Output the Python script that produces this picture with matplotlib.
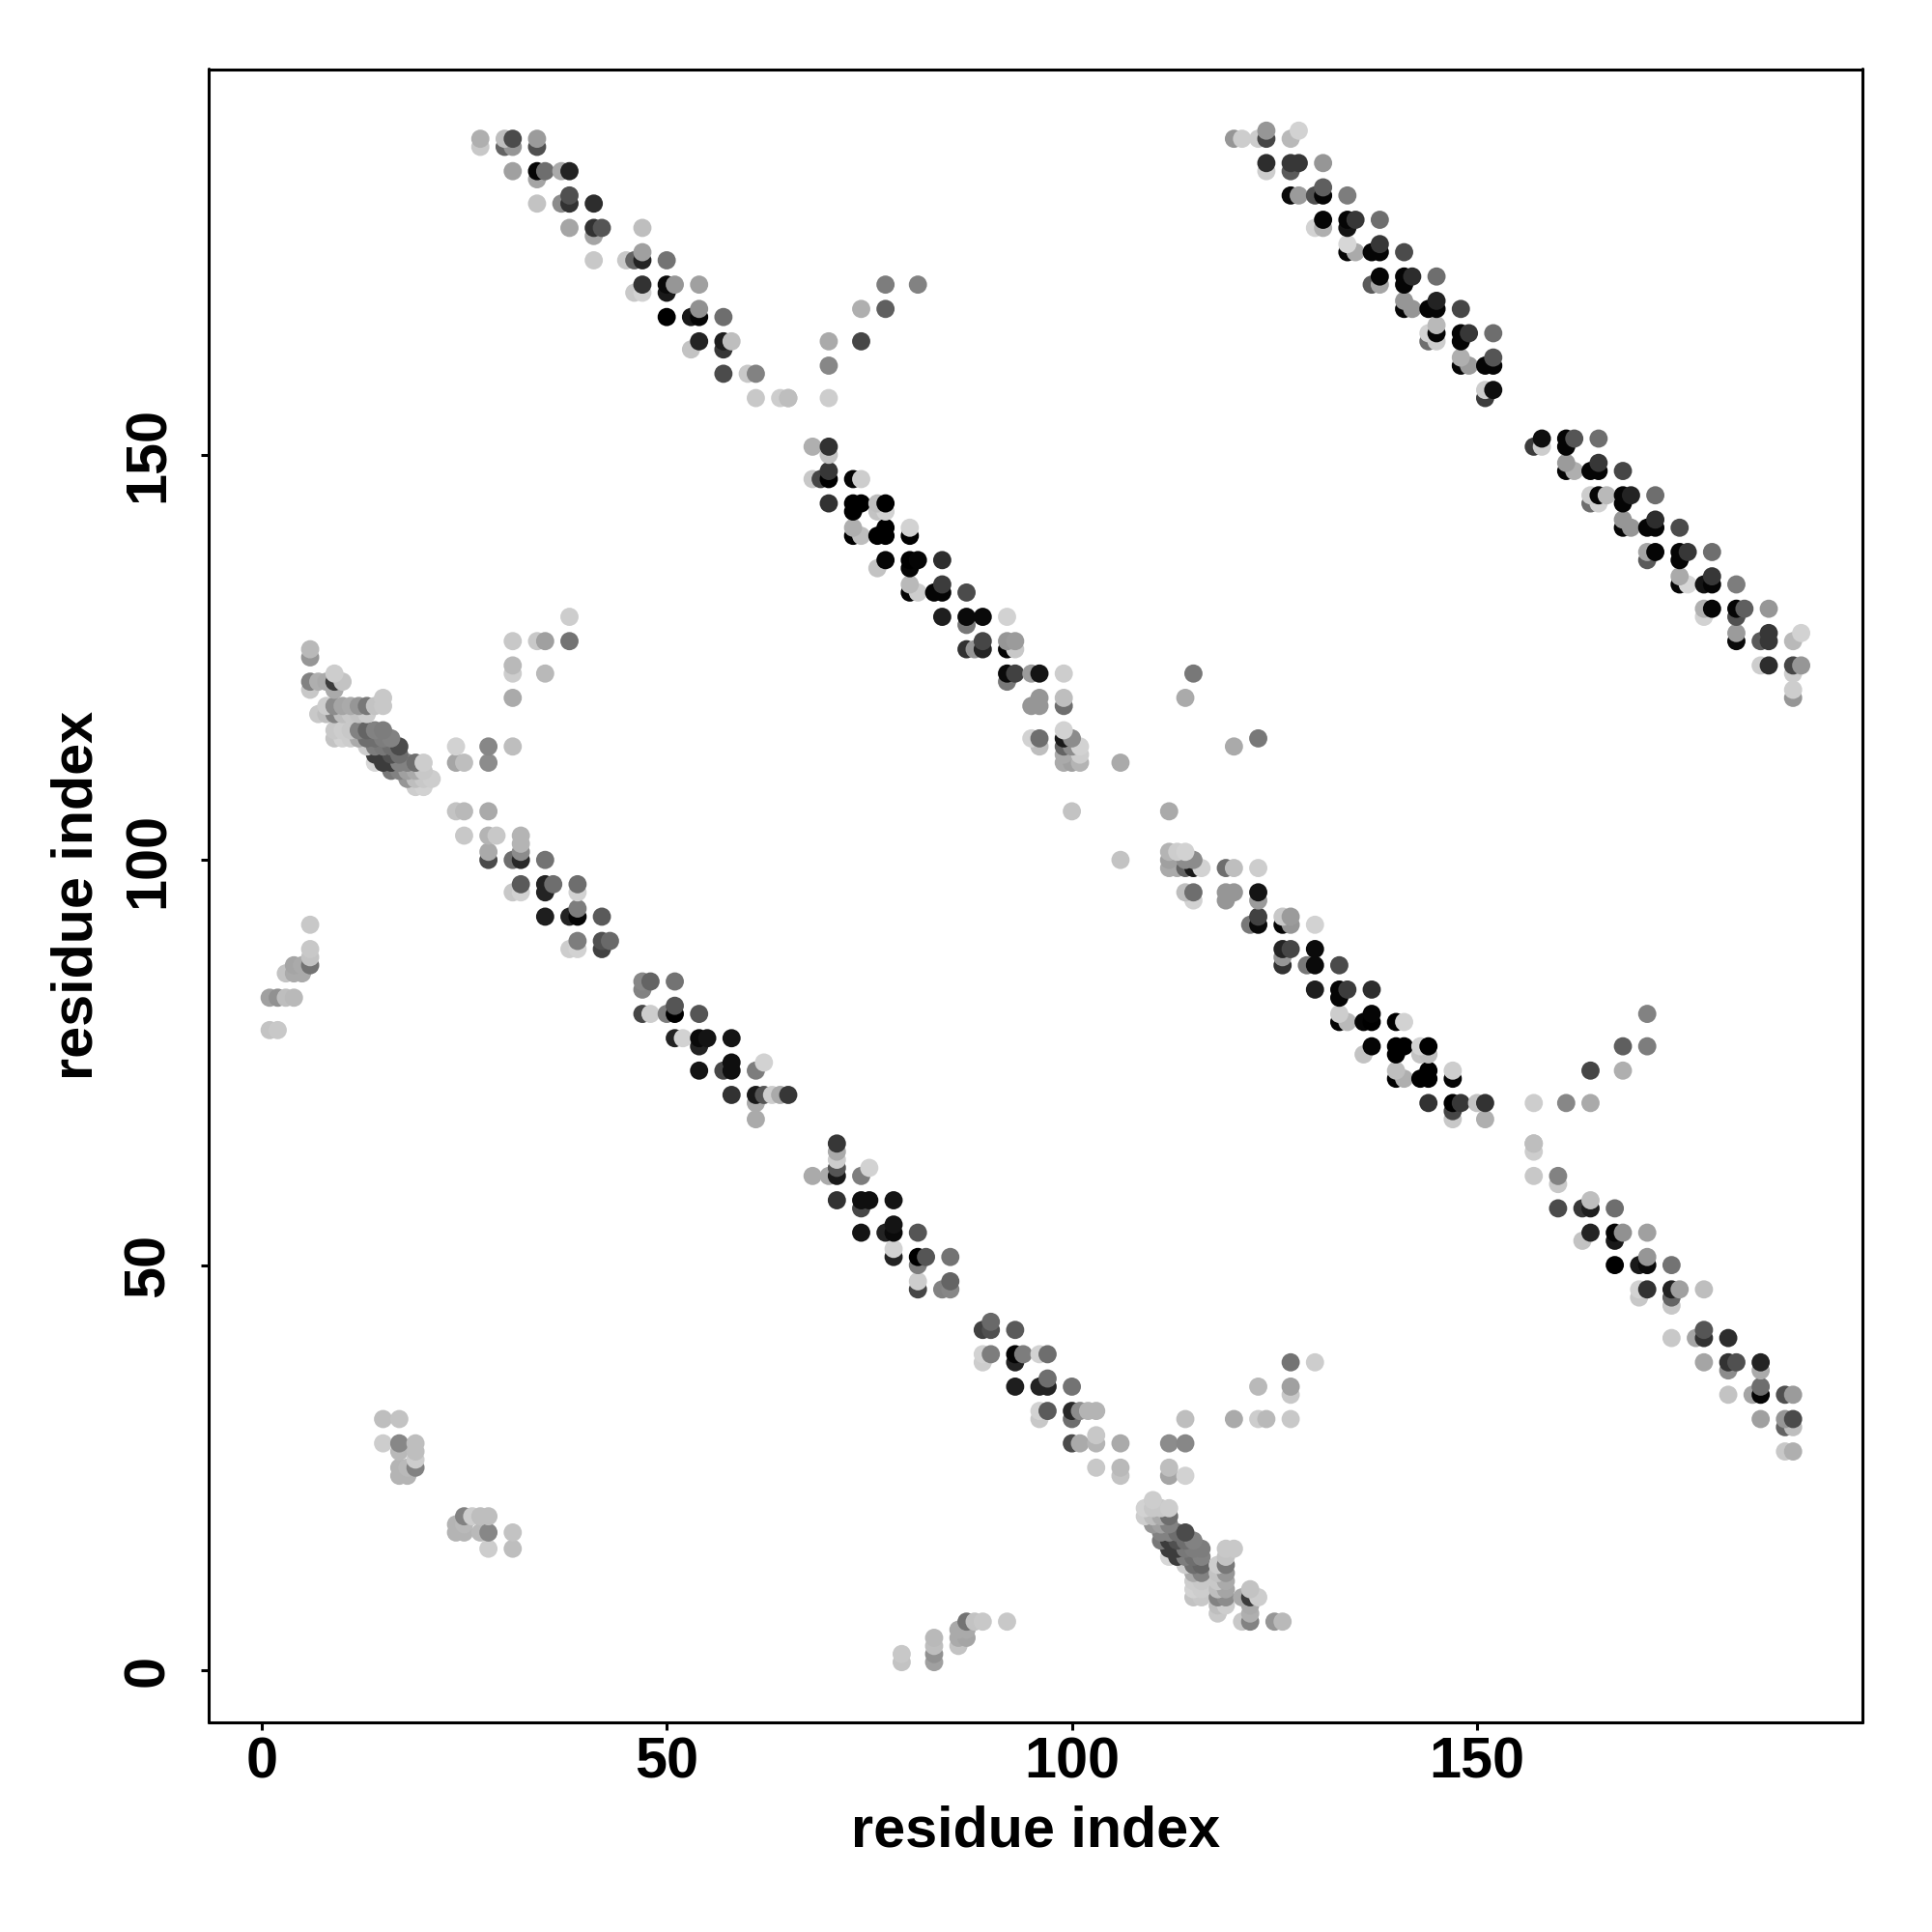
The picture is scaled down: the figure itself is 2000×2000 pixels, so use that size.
import numpy as np
import matplotlib
matplotlib.use('Agg')
import matplotlib.pyplot as plt

# contacts as (residue i, residue j, grey 0-255), the map is symmetric so only i < j is listed
top_left_band = [
    (27,189,175),(27,188,200),(30,189,190),(31,189,75),(30,188,100),(31,188,150),(34,189,155),(34,188,80),
    (31,185,160),(34,185,5),(35,185,110),(37,185,170),(38,185,35),(34,184,165),
    (34,181,195),(37,181,140),(38,181,50),(38,182,80),(41,181,45),
    (38,178,165),(41,178,50),(42,178,85),(41,177,165),(47,178,190),
    (41,174,200),(45,174,200),(46,174,100),(47,174,35),(47,175,160),(50,174,115),
    (47,171,50),(50,171,10),(51,171,150),(54,171,160),(46,170,200),(47,170,210),(50,170,25),
    (50,167,0),(53,167,25),(54,167,5),(54,168,145),(57,167,110),
    (54,164,35),(57,164,30),(58,164,190),(53,163,195),(57,163,55),
    (57,160,75),(60,160,200),(61,160,130),
    (61,157,200),(64,157,205),(65,157,185),
]
top_right_band = [
    (120,189,150),(121,189,205),(123,189,205),(124,189,70),(124,190,150),(127,189,185),(128,190,210),
    (124,186,45),(124,185,205),(127,186,55),(128,186,55),(131,186,150),(127,185,90),
    (127,182,10),(128,182,155),(130,182,80),(131,182,5),(131,183,95),(134,182,125),
    (131,179,5),(134,179,5),(135,179,55),(138,179,110),(130,178,210),(131,178,175),(134,178,20),
    (134,176,215),(134,175,5),(135,175,170),(137,175,5),(138,175,5),(138,176,55),(141,175,75),
    (138,172,5),(141,172,5),(142,172,45),(145,172,110),(137,171,90),(138,171,165),(141,171,5),
    (141,169,150),(141,168,5),(142,168,150),(144,168,5),(145,168,5),(145,169,35),(148,168,70),
    (144,165,210),(145,166,185),(145,165,5),(148,165,5),(149,165,55),(152,165,110),(144,164,110),(145,164,205),(148,164,5),
    (148,162,175),(148,161,5),(149,161,155),(151,161,5),(152,161,5),(152,162,85),
    (151,158,205),(152,158,15),(151,157,60),
]
middle_band = [
    (68,151,175),(70,151,50),(70,150,195),(68,147,200),(69,147,70),(70,147,0),(70,148,55),(73,147,5),(74,147,205),
    (70,144,50),(73,144,0),(74,144,0),(73,143,0),(76,144,190),(76,143,195),(77,144,0),(77,143,210),
    (73,141,175),(77,141,0),(80,141,210),(73,140,0),(74,140,190),(76,140,0),(77,140,0),(80,140,0),
    (77,137,5),(76,136,195),(80,137,0),(81,137,5),(84,137,45),(80,136,5),
    (80,134,185),(84,134,60),(80,133,5),(81,133,205),(83,133,5),(84,133,5),(87,133,75),
    (84,130,30),(87,130,10),(89,130,10),(92,130,210),(87,129,120),
    (89,127,70),(92,127,150),(93,127,155),(87,126,50),(88,126,150),(89,126,35),(92,126,5),(93,126,200),
    (92,123,10),(93,123,65),(95,123,155),(96,123,20),(99,123,205),(92,122,120),
    (96,120,150),(99,120,190),(95,119,150),(96,119,150),(99,119,110),
    (99,116,210),(95,115,210),(96,115,110),(99,115,25),(100,115,140),(96,114,190),(99,114,100),(100,114,140),(101,114,210),
    (99,113,170),(101,113,205),(99,112,170),(100,112,160),(101,112,180),(106,112,170),(100,106,195),
]
lower_band = [
    (24,106,195),(25,106,185),(28,106,170),
    (25,103,200),(28,103,180),(29,103,200),(32,103,180),(32,102,180),(32,101,140),(28,101,170),
    (28,100,75),(31,100,110),(32,100,40),(35,100,115),
    (32,97,90),(35,97,35),(36,97,110),(39,97,110),(31,96,200),(32,96,210),(35,96,35),(39,96,210),
    (35,93,30),(38,93,35),(39,93,5),(39,94,125),(42,93,90),
    (39,90,125),(42,90,80),(43,90,105),(38,89,205),(39,89,210),(42,89,65),
    (47,85,135),(48,85,100),(51,85,115),(47,84,130),
    (47,81,70),(48,81,205),(50,81,125),(51,81,0),(51,82,85),(54,81,85),
    (51,78,35),(52,78,210),(54,78,10),(55,78,20),(58,78,20),(54,77,35),
    (54,74,20),(57,74,70),(58,74,15),(58,75,15),(61,74,125),(62,75,210),
    (58,71,50),(61,71,25),(62,71,85),(63,71,205),(64,71,170),(65,71,55),(61,70,170),(61,68,170),
]
dense_patch = [
    (6,126,185),(6,125,150),(6,122,130),(7,122,175),(8,122,170),(9,122,60),(10,122,195),(9,123,205),(6,121,200),(9,121,170),
    (15,120,200),(15,119,200),(14,119,195),(13,119,120),(12,119,150),(11,119,170),(10,119,165),(9,119,140),(8,119,205),
    (7,118,200),(8,118,190),(9,118,130),(10,118,190),(11,118,200),(12,118,195),(13,118,205),
    (14,116,130),(15,116,125),(13,116,100),(12,116,130),(9,116,200),(10,116,205),(11,116,200),
    (9,115,195),(10,115,210),(11,115,205),(12,115,170),(13,115,110),(14,115,110),(15,115,125),(16,115,130),
    (17,114,75),(16,114,110),(15,114,120),(14,114,125),(13,114,205),
    (14,113,60),(15,113,60),(16,113,80),(17,113,110),
    (14,112,215),(15,112,60),(16,112,60),(17,112,130),(18,112,130),(19,112,110),(20,112,205),
    (16,111,120),(17,111,130),(18,111,160),(19,111,170),(20,111,200),
    (18,110,150),(19,110,190),(20,110,200),(21,110,205),(19,109,205),(20,109,210),
]
isolated = [
    (65,157,190),(70,157,205),(70,161,135),(70,164,170),(74,164,70),(74,168,175),(77,168,95),(77,171,125),(81,171,130),
    (38,130,205),(31,127,200),(34,127,200),(35,127,160),(38,127,115),(31,124,185),(31,123,205),(35,123,185),(31,120,170),
    (24,114,210),(28,114,135),(31,114,190),(24,112,165),(25,112,190),(28,112,140),
    (114,120,170),(115,123,120),
    (6,92,200),(6,89,200),(6,88,195),(6,87,115),(3,86,195),(4,87,165),(4,86,170),(5,86,170),(5,87,170),
    (1,83,160),(2,83,145),(3,83,190),(4,83,185),(1,79,195),(2,79,200),
    (15,31,190),(17,31,195),(15,28,205),(17,28,135),(19,28,190),(17,27,185),(19,27,190),(19,26,205),(19,25,130),
    (17,25,180),(17,24,180),(18,24,180),(18,25,185),
]
tick_values = [0, 50, 100, 150]
axis_title = 'residue index'

contacts = np.array(top_left_band + top_right_band + middle_band + lower_band + dense_patch + isolated)
res_i, res_j, shade = contacts[:, 0], contacts[:, 1], contacts[:, 2]

# both triangles, painted row by row from the bottom like the original
xs = np.concatenate([res_i, res_j])
ys = np.concatenate([res_j, res_i])
greys = np.concatenate([shade, shade])
order = np.lexsort((xs, ys))

plt.rcParams['font.family'] = ['Liberation Sans', 'DejaVu Sans']
plt.rcParams['font.weight'] = 'bold'

fig = plt.figure(figsize=(10, 10), dpi=200)
ax = fig.add_axes([215.7 / 2000, 1 - 1783.3 / 2000, (1928 - 215.7) / 2000, (1783.3 - 71.5) / 2000])
ax.scatter(xs[order], ys[order], c=greys[order], cmap='gray', vmin=0, vmax=255, s=46, linewidths=0)

ax.set_xlim(-6.56, 197.56)
ax.set_ylim(-6.47, 197.6)
ax.set_xticks(tick_values)
ax.set_yticks(tick_values)
ax.tick_params(length=3, width=1.1, labelsize=21.4)
ax.tick_params(axis='x', pad=2)
ax.tick_params(axis='y', pad=9.3)
for label in ax.get_yticklabels():
    label.set_rotation(90)
    label.set_va('center')
for spine in ax.spines.values():
    spine.set_linewidth(1.1)
    spine.set_capstyle('round')
ax.set_xlabel(axis_title, fontsize=21.4, fontweight='bold', labelpad=6)
ax.set_ylabel(axis_title, fontsize=21.4, fontweight='bold', labelpad=7)

fig.savefig('out.png', dpi=200)
